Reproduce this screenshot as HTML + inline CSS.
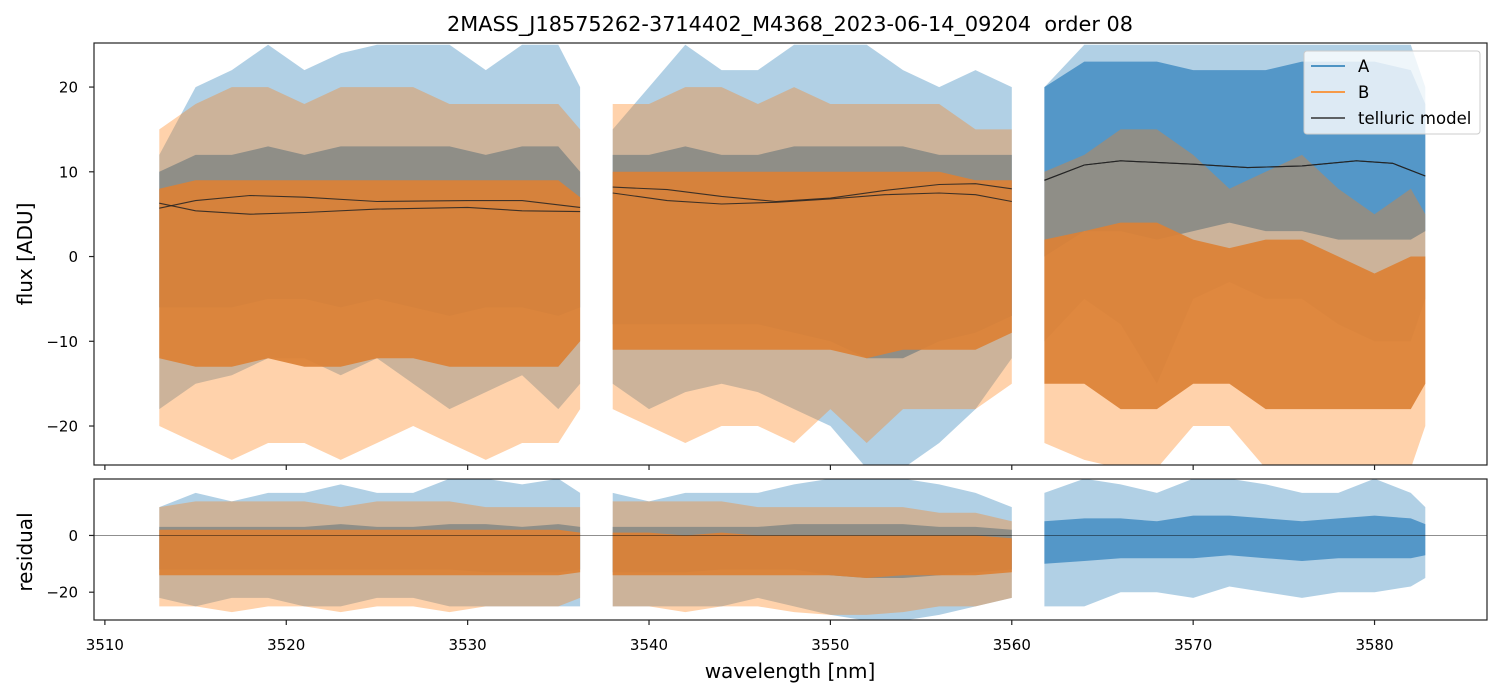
<!DOCTYPE html>
<html><head><meta charset="utf-8"><style>
body{margin:0;background:#fff;}
svg{display:block;font-family:"DejaVu Sans","Liberation Sans",sans-serif;}
</style></head><body>
<svg id="chart" width="1502" height="696"></svg>
<script>
// ---- data (binned envelopes) ----
const segX = [
  [3513,3515,3517,3519,3521,3523,3525,3527,3529,3531,3533,3535,3536.2],
  [3538,3540,3542,3544,3546,3548,3550,3552,3554,3556,3558,3560],
  [3561.8,3564,3566,3568,3570,3572,3574,3576,3578,3580,3582,3582.8]
];
const aHi = [[12,20,22,25,22,24,25,25,25,22,25,25,20],[15,20,25,22,22,25,25,25,22,20,22,20],[20,25,25,25,25,25,25,25,25,25,25,20]];
const aLo = [[-18,-15,-14,-12,-12,-14,-12,-15,-18,-16,-14,-18,-15],[-15,-18,-16,-15,-16,-18,-20,-25,-25,-22,-18,-12],[-10,-5,-8,-15,-5,-3,-5,-5,-8,-10,-10,-5]];
const aCoreHi = [[10,12,12,13,12,13,13,13,13,12,13,13,10],[12,12,13,12,12,13,13,13,13,12,12,12],[20,23,23,23,22,22,22,23,23,23,22,18]];
const aCoreLo = [[-6,-6,-6,-5,-5,-6,-5,-6,-7,-6,-6,-7,-6],[-8,-8,-8,-8,-8,-9,-10,-12,-12,-10,-9,-7],[0,3,3,2,3,4,3,3,2,2,2,3]];
const bHi = [[15,18,20,20,18,20,20,20,18,18,18,18,15],[18,18,20,20,18,20,18,18,18,18,15,15],[10,12,15,15,12,8,10,12,8,5,8,5]];
const bLo = [[-20,-22,-24,-22,-22,-24,-22,-20,-22,-24,-22,-22,-18],[-18,-20,-22,-20,-20,-22,-18,-22,-18,-18,-18,-15],[-22,-24,-25,-25,-20,-20,-25,-25,-25,-25,-25,-20]];
const bCoreHi = [[8,9,9,9,9,9,9,9,9,9,9,9,7],[10,10,10,10,10,10,10,10,10,10,9,9],[2,3,4,4,2,1,2,2,0,-2,0,0]];
const bCoreLo = [[-12,-13,-13,-12,-13,-13,-12,-12,-13,-13,-13,-13,-10],[-11,-11,-11,-11,-11,-11,-11,-12,-11,-11,-11,-9],[-15,-15,-18,-18,-15,-15,-18,-18,-18,-18,-18,-15]];
const telX = [[3513,3515,3518,3521,3525,3530,3533,3536.2],[3538,3541,3544,3547,3550,3553,3556,3558,3560],[3561.8,3564,3566,3570,3573,3576,3579,3581,3582.8]];
const telA = [[6.3,5.4,5.0,5.2,5.6,5.8,5.4,5.3],[8.2,7.9,7.1,6.5,6.9,7.8,8.5,8.6,8.0],[9.0,10.8,11.3,10.9,10.5,10.7,11.3,11.0,9.5]];
const telB = [[5.7,6.6,7.2,7.0,6.5,6.6,6.6,5.8],[7.5,6.6,6.2,6.4,6.8,7.3,7.5,7.3,6.5],[9.0,10.8,11.3,10.9,10.5,10.7,11.3,11.0,9.5]];
const rAHi = [[10,15,12,15,15,18,15,15,20,20,18,20,15],[15,12,15,15,15,18,20,20,20,18,15,10],[15,20,18,15,20,20,18,15,15,20,15,10]];
const rALo = [[-22,-25,-22,-22,-25,-25,-22,-22,-25,-25,-25,-25,-25],[-25,-25,-25,-25,-22,-25,-28,-30,-30,-28,-25,-22],[-25,-25,-20,-20,-22,-18,-20,-22,-20,-20,-18,-15]];
const rACoreHi = [[3,3,3,3,3,4,3,3,4,4,3,4,3],[3,3,3,3,3,4,4,4,4,3,3,2],[5,6,6,5,7,7,6,5,6,7,6,4]];
const rACoreLo = [[-12,-12,-12,-12,-12,-12,-12,-12,-12,-13,-13,-13,-12],[-13,-13,-13,-12,-12,-12,-14,-15,-15,-14,-13,-12],[-10,-9,-8,-8,-8,-7,-8,-9,-8,-8,-8,-7]];
const rBHi = [[10,12,12,12,12,10,12,12,12,10,10,10,10],[12,12,12,12,10,10,10,10,10,8,8,5]];
const rBLo = [[-25,-25,-27,-25,-25,-27,-25,-25,-27,-25,-25,-25,-22],[-25,-25,-27,-25,-25,-27,-28,-28,-27,-25,-25,-22]];
const rBCoreHi = [[2,2,2,2,2,2,2,2,2,2,2,2,1],[1,1,0,1,0,0,0,0,0,0,0,-1]];
const rBCoreLo = [[-14,-14,-14,-14,-14,-14,-14,-14,-14,-14,-14,-14,-13],[-14,-14,-14,-14,-14,-14,-14,-15,-14,-14,-14,-13]];
const xTicks = [3510,3520,3530,3540,3550,3560,3570,3580];
const yTicksTop = [20,10,0,-10,-20];
const yTicksBot = [0,-20];

// ---- axes ----
const L=94,R=1487,T1=43,B1=465,T2=479,B2=620;
const xMin=3509.4,xMax=3586.2;
const X=v=>L+(v-xMin)/(xMax-xMin)*(R-L);
const topMin=-24.6,topMax=25.2,botMin=-29.8,botMax=19.9;
const Y1=v=>B1-(v-topMin)/(topMax-topMin)*(B1-T1);
const Y2=v=>B2-(v-botMin)/(botMax-botMin)*(B2-T2);
const NS="http://www.w3.org/2000/svg";
const svg=document.getElementById('chart');
function mk(tag,attrs,parent){const e=document.createElementNS(NS,tag);for(const k in attrs)e.setAttribute(k,attrs[k]);(parent||svg).appendChild(e);return e;}
mk('defs',{}).innerHTML='<clipPath id="c1"><rect x="94" y="43" width="1393" height="422"/></clipPath><clipPath id="c2"><rect x="94" y="479" width="1393" height="141"/></clipPath>';
const g1=mk('g',{'clip-path':'url(#c1)'});


const g2=mk('g',{'clip-path':'url(#c2)'});



function band(g,xs,hi,lo,Y,color,op,name){
  let p=xs.map((x,i)=>X(x).toFixed(1)+','+Y(hi[i]).toFixed(1));
  for(let i=xs.length-1;i>=0;i--)p.push(X(xs[i]).toFixed(1)+','+Y(lo[i]).toFixed(1));
  const e=mk('polygon',{points:p.join(' '),fill:color,'fill-opacity':op},g);
  
  
}
function line(g,xs,ys,Y,name){
  const e=mk('polyline',{points:xs.map((x,i)=>X(x).toFixed(1)+','+Y(ys[i]).toFixed(1)).join(' '),fill:'none',stroke:'#222','stroke-width':1.1,'stroke-opacity':0.85},g);
  
  
}
const BLUE='#1f77b4',ORANGE='#ff7f0e',BCORE='#4a90c4',OCORE='#dc8135';
for(let s=0;s<3;s++){
  band(g1,segX[s],aHi[s],aLo[s],Y1,BLUE,0.35,'series-a-envelope');
  band(g1,segX[s],aCoreHi[s],aCoreLo[s],Y1,BCORE,0.9,'series-a-core');
}
for(let s=0;s<3;s++){
  band(g1,segX[s],bHi[s],bLo[s],Y1,ORANGE,0.35,'series-b-envelope');
  band(g1,segX[s],bCoreHi[s],bCoreLo[s],Y1,OCORE,0.92,'series-b-core');
}
for(let s=0;s<3;s++){
  line(g1,telX[s],telA[s],Y1,'telluric-model-a');
  line(g1,telX[s],telB[s],Y1,'telluric-model-b');
}
for(let s=0;s<3;s++){
  band(g2,segX[s],rAHi[s],rALo[s],Y2,BLUE,0.35,'residual-a-envelope');
  band(g2,segX[s],rACoreHi[s],rACoreLo[s],Y2,BCORE,0.9,'residual-a-core');
}
for(let s=0;s<2;s++){
  band(g2,segX[s],rBHi[s],rBLo[s],Y2,ORANGE,0.35,'residual-b-envelope');
  band(g2,segX[s],rBCoreHi[s],rBCoreLo[s],Y2,OCORE,0.92,'residual-b-core');
}
const zl=mk('line',{x1:L,x2:R,y1:Y2(0),y2:Y2(0),stroke:'#000','stroke-width':0.6,'stroke-opacity':0.7});



for(const [t,b,n] of [[T1,B1,'flux-axes-frame'],[T2,B2,'residual-axes-frame']]){
  const r=mk('rect',{x:L,y:t,width:R-L,height:b-t,fill:'none',stroke:'#222','stroke-width':1.2});
  
  
}
xTicks.forEach(v=>{
  mk('line',{x1:X(v),x2:X(v),y1:B1,y2:B1+5,stroke:'#222','stroke-width':1.2});
  mk('line',{x1:X(v),x2:X(v),y1:B2,y2:B2+5,stroke:'#222','stroke-width':1.2});
  const t=mk('text',{x:X(v),y:B2+30,'font-size':15,'text-anchor':'middle'});
  t.textContent=v;
  
  
});
yTicksTop.forEach(v=>{
  mk('line',{x1:L-5,x2:L,y1:Y1(v),y2:Y1(v),stroke:'#222','stroke-width':1.2});
  const t=mk('text',{x:L-16,y:Y1(v)+5.5,'font-size':15,'text-anchor':'end'});
  t.textContent=v<0?'\u2212'+(-v):v;
  
  
});
yTicksBot.forEach(v=>{
  mk('line',{x1:L-5,x2:L,y1:Y2(v),y2:Y2(v),stroke:'#222','stroke-width':1.2});
  const t=mk('text',{x:L-16,y:Y2(v)+5.5,'font-size':15,'text-anchor':'end'});
  t.textContent=v<0?'\u2212'+(-v):v;
  
  
});
function txt(x,y,s,size,name,extra){const t=mk('text',Object.assign({x:x,y:y,'font-size':size,'text-anchor':'middle'},extra||{}));t.textContent=s;return t;}
const title=txt(790,31,'2MASS_J18575262-3714402_M4368_2023-06-14_09204  order 08',20,'chart-title',{style:'white-space:pre',textLength:686,lengthAdjust:'spacingAndGlyphs'});
txt(790,678,'wavelength [nm]',20,'x-axis-title');
txt(32,254,'flux [ADU]',20,'y-axis-title',{transform:'rotate(-90 32 254)'});
txt(32,552,'residual',20,'residual-y-axis-title',{transform:'rotate(-90 32 552)'});

const lg=mk('g',{});


mk('rect',{x:1304,y:51,width:176,height:83,rx:3,fill:'#fff','fill-opacity':0.8,stroke:'#ccc'},lg);
[['A',BLUE,66],['B',ORANGE,92],['telluric model','#333',118]].forEach(([lab,c,y])=>{
  mk('line',{x1:1311,x2:1345,y1:y,y2:y,stroke:c,'stroke-width':1.5},lg);
  const t=mk('text',{x:1358,y:y+6,'font-size':16.5},lg);
  t.textContent=lab;
  
  
});
</script>
</body></html>
